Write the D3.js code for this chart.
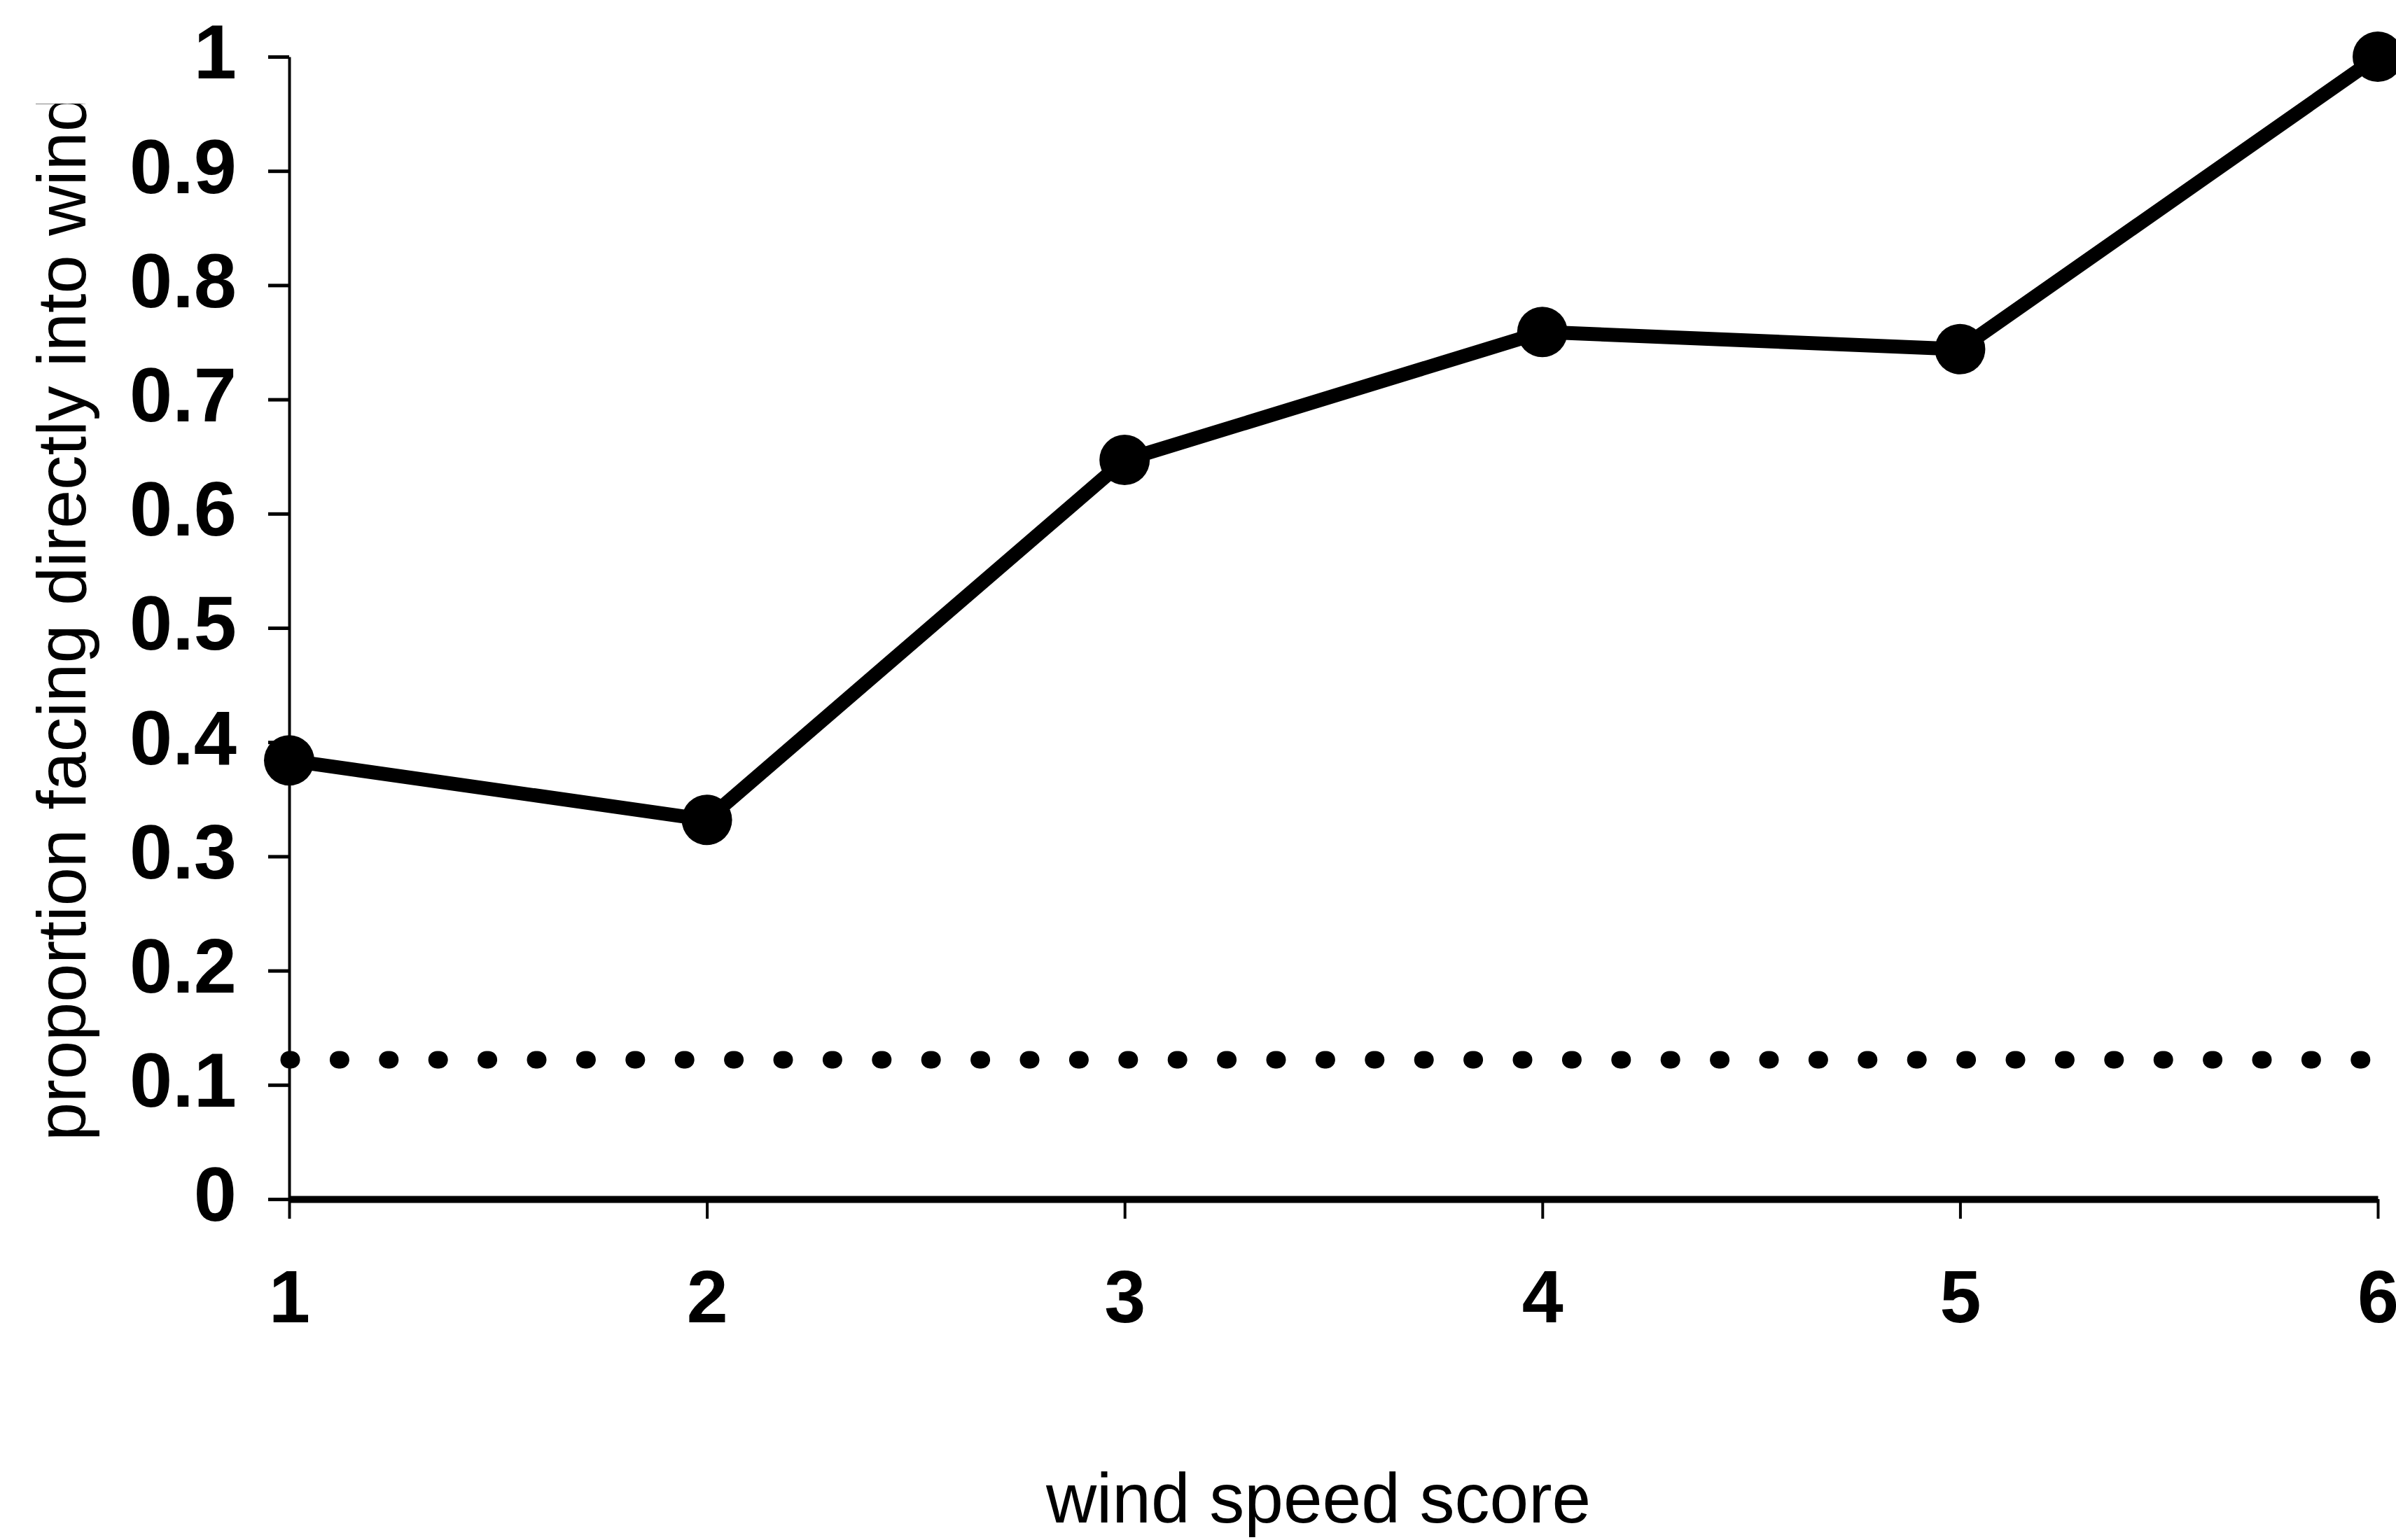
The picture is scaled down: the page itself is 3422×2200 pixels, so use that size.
<!DOCTYPE html>
<html>
<head>
<meta charset="utf-8">
<script src="https://cdn.jsdelivr.net/npm/d3@7"></script>
<style>
  html, body { margin: 0; padding: 0; background: #fff; }
  svg { display: block; }
  text { font-family: "Liberation Sans", Arial, Helvetica, sans-serif; fill: #000; }
</style>
</head>
<body>
<script>
// Wind speed score categories and the observed proportion facing into the wind
const windScores = [1, 2, 3, 4, 5, 6];
const proportionIntoWind = [0.384, 0.332, 0.647, 0.759, 0.744, 1.0];
// Expected proportion by chance (dotted reference line)
const chanceLevel = [0.122, 0.122];
const yTicks = [0, 0.1, 0.2, 0.3, 0.4, 0.5, 0.6, 0.7, 0.8, 0.9, 1];
const yTickLabels = ["0", "0.1", "0.2", "0.3", "0.4", "0.5", "0.6", "0.7", "0.8", "0.9", "1"];
const xTickLabels = ["1", "2", "3", "4", "5", "6"];
const xTitle = "wind speed score";
const yTitle = "proportion facing directly into wind";

const W = 3422, H = 2200;
const svg = d3.select("body").append("svg").attr("width", W).attr("height", H);

const x = d3.scaleLinear().domain([1, 6]).range([413, 3396]);
const y = d3.scaleLinear().domain([0, 1]).range([1713, 81]);

// Y axis
const yAxis = svg.append("g")
  .attr("transform", `translate(${x(1)},0)`)
  .call(d3.axisLeft(y).tickValues(yTicks).tickSizeInner(30).tickSizeOuter(0).tickPadding(45)
    .tickFormat((d, i) => yTickLabels[i]));
yAxis.select(".domain").attr("stroke", "#000").attr("stroke-width", 4);
yAxis.selectAll(".tick line").attr("stroke", "#000").attr("stroke-width", 5);
yAxis.selectAll(".tick text")
  .attr("font-size", 110).attr("font-weight", "bold")
  .attr("dy", "0.28em");

// X axis
const xAxis = svg.append("g")
  .attr("transform", `translate(0,${y(0)})`)
  .call(d3.axisBottom(x).tickValues(windScores).tickSizeInner(28).tickSizeOuter(0).tickPadding(72)
    .tickFormat((d, i) => xTickLabels[i]));
xAxis.select(".domain").attr("stroke", "#000").attr("stroke-width", 10);
xAxis.selectAll(".tick line").attr("stroke", "#000").attr("stroke-width", 4);
xAxis.selectAll(".tick text")
  .attr("font-size", 106).attr("font-weight", "bold")
  .attr("dy", "0.72em");

// Dotted chance line
svg.append("path")
  .datum(chanceLevel.map((v, i) => [i === 0 ? 1 : 6, v]))
  .attr("d", d3.line().x(d => x(d[0])).y(d => y(d[1])))
  .attr("fill", "none")
  .attr("stroke", "#000")
  .attr("stroke-width", 25)
  .attr("stroke-linecap", "round")
  .attr("stroke-dasharray", "3 67.4");

// Observed proportions
const pts = windScores.map((s, i) => [s, proportionIntoWind[i]]);
svg.append("path")
  .datum(pts)
  .attr("d", d3.line().x(d => x(d[0])).y(d => y(d[1])))
  .attr("fill", "none")
  .attr("stroke", "#000")
  .attr("stroke-width", 20)
  .attr("stroke-linejoin", "round");

svg.append("g").selectAll("circle")
  .data(pts)
  .join("circle")
  .attr("cx", d => x(d[0]))
  .attr("cy", d => y(d[1]))
  .attr("r", 36)
  .attr("fill", "#000");

// Axis titles
svg.append("text")
  .attr("x", 1883).attr("y", 2175)
  .attr("text-anchor", "middle")
  .attr("font-size", 100)
  .text(xTitle);

svg.append("defs").append("clipPath").attr("id", "ytitle-clip")
  .append("rect").attr("x", 0).attr("y", 148).attr("width", 300).attr("height", 2000);

svg.append("g").attr("clip-path", "url(#ytitle-clip)")
  .append("text")
  .attr("transform", "translate(122,1630) rotate(-90)")
  .attr("text-anchor", "start")
  .attr("font-size", 99)
  .text(yTitle);
</script>
</body>
</html>
